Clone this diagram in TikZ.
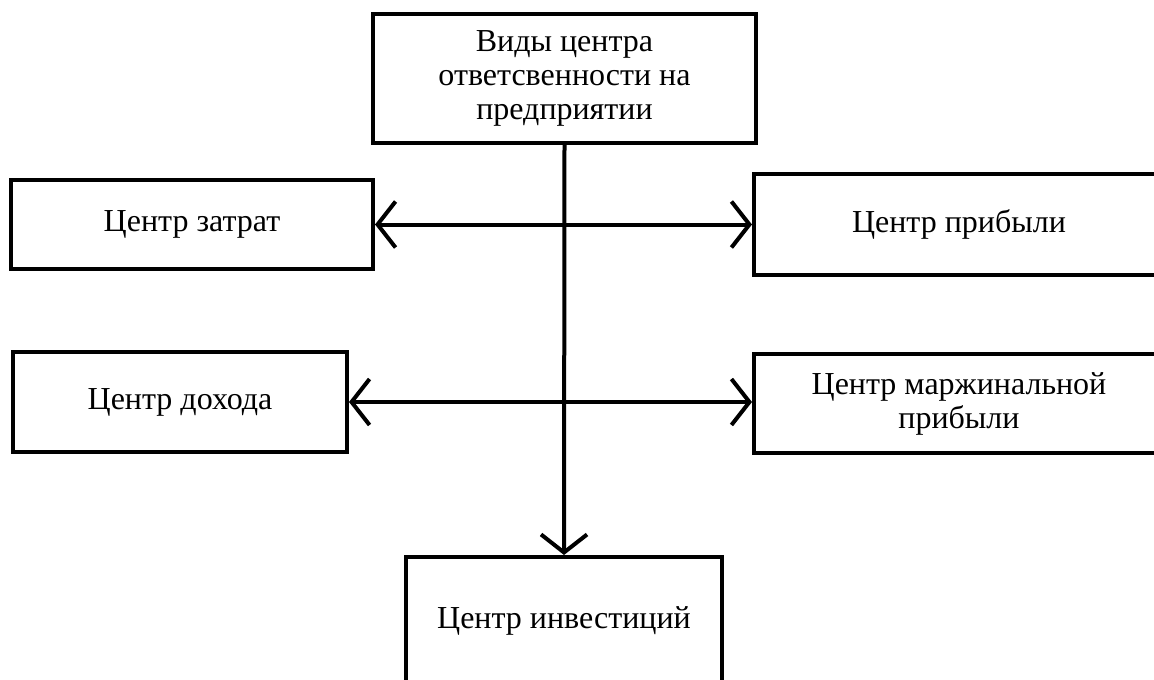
\documentclass[tikz,border=0pt]{standalone}
\usepackage{fontspec}
\setmainfont{Liberation Serif}
\usetikzlibrary{arrows.meta}
\tikzset{
  box/.style={draw=black, line width=4pt, fill=white, inner sep=0pt, align=center,
    font=\fontsize{32pt}{34pt}\selectfont, line join=miter},
  conn/.style={line width=4pt, draw=black},
  barb/.style={-{Straight Barb[length=18pt,width=46pt]}},
  barbs/.style={{Straight Barb[length=18pt,width=46pt]}-{Straight Barb[length=18pt,width=46pt]}}
}
\begin{document}
\begin{tikzpicture}[x=1pt,y=-1pt]
\useasboundingbox (0,0) rectangle (1154,680);
\clip (0,0) rectangle (1154,680);
\node[box, minimum width=383pt, minimum height=129pt] (top) at (564.5,78.5)
  {Виды центра\\ответсвенности на\\предприятии};
\node[box, minimum width=362pt, minimum height=89pt] (zat) at (192,224.5) {Центр затрат};
\node[box, minimum width=410pt, minimum height=101pt] (prib) at (959,224.5) {Центр прибыли};
\node[box, minimum width=334pt, minimum height=100pt] (doh) at (180,402) {Центр дохода};
\node[box, minimum width=410pt, minimum height=99pt] (marz) at (959,403.5) {Центр маржинальной\\прибыли};
\node[box, minimum width=316pt, minimum height=128pt] (inv) at (564,621) {Центр инвестиций};
\draw[conn, barb] (top.south) -- (inv.north);
\draw[conn, barbs] (zat.east) -- (prib.west);
\draw[conn, barbs] (doh.east) -- (doh.east -| marz.west);
\end{tikzpicture}
\end{document}
